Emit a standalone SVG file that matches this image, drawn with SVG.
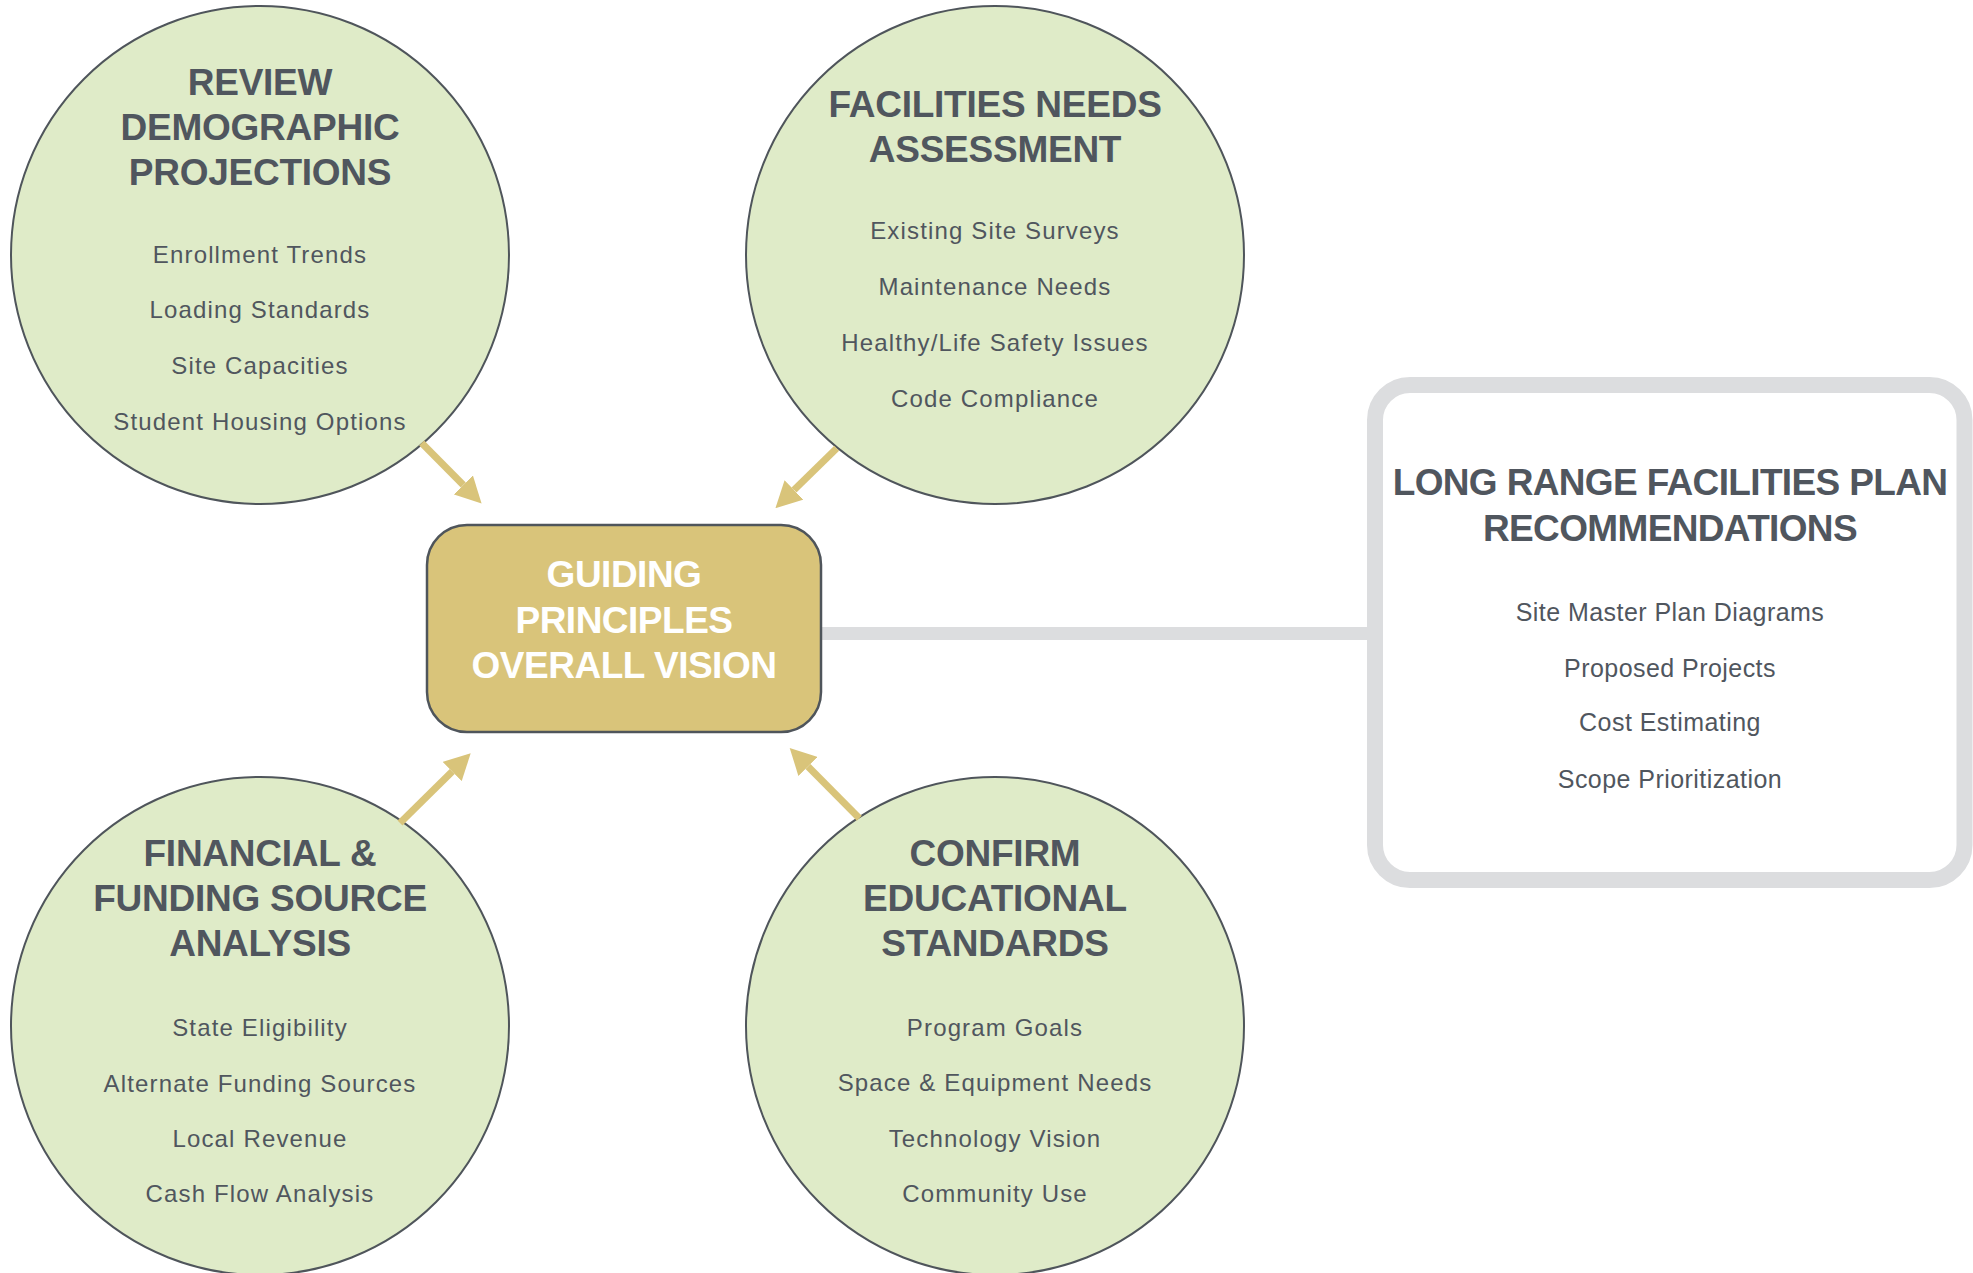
<svg xmlns="http://www.w3.org/2000/svg" width="1973" height="1273" viewBox="0 0 1973 1273">
<style>
.circ{fill:#DFEBC8;stroke:#4F555B;stroke-width:2}
.ttl{font-family:"Liberation Sans",Arial,sans-serif;font-weight:bold;font-size:37px;fill:#50565E;text-anchor:middle;letter-spacing:-0.25px}
.itm{font-family:"Liberation Sans",Arial,sans-serif;font-size:24px;fill:#50565E;text-anchor:middle;letter-spacing:1.15px}
.ctr{font-family:"Liberation Sans",Arial,sans-serif;font-weight:bold;font-size:37px;fill:#FFFFFF;text-anchor:middle;letter-spacing:-0.5px}
.rtl{font-family:"Liberation Sans",Arial,sans-serif;font-weight:bold;font-size:37px;fill:#50565E;text-anchor:middle;letter-spacing:-0.65px}
.rit{font-family:"Liberation Sans",Arial,sans-serif;font-size:25px;fill:#50565E;text-anchor:middle;letter-spacing:0.45px}
.arr{stroke:#D9C47A;stroke-width:7;fill:none;marker-end:url(#head)}
</style>
<defs>
<marker id="head" viewBox="0 0 26 27" markerWidth="26" markerHeight="27" markerUnits="userSpaceOnUse" refX="0" refY="13.5" orient="auto">
<path d="M0,0 L26,13.5 L0,27 z" fill="#D9C47A"/>
</marker>
</defs>
<rect width="1973" height="1273" fill="#FFFFFF"/>

<g id="connectors">
<line x1="821" y1="633.5" x2="1376" y2="633.5" stroke="#DCDDDF" stroke-width="13"/>
</g>

<g id="node-demographic">
<circle class="circ" cx="260" cy="255" r="249"/>
<text class="ttl" x="260" y="95">REVIEW</text>
<text class="ttl" x="260" y="140">DEMOGRAPHIC</text>
<text class="ttl" x="260" y="185">PROJECTIONS</text>
<text class="itm" x="260" y="263">Enrollment Trends</text>
<text class="itm" x="260" y="318">Loading Standards</text>
<text class="itm" x="260" y="374">Site Capacities</text>
<text class="itm" x="260" y="430">Student Housing Options</text>
</g>

<g id="node-facilities">
<circle class="circ" cx="995" cy="255" r="249"/>
<text class="ttl" x="995" y="117">FACILITIES NEEDS</text>
<text class="ttl" x="995" y="162">ASSESSMENT</text>
<text class="itm" x="995" y="239">Existing Site Surveys</text>
<text class="itm" x="995" y="295">Maintenance Needs</text>
<text class="itm" x="995" y="351">Healthy/Life Safety Issues</text>
<text class="itm" x="995" y="407">Code Compliance</text>
</g>

<g id="node-financial">
<circle class="circ" cx="260" cy="1026" r="249"/>
<text class="ttl" x="260" y="866">FINANCIAL &amp;</text>
<text class="ttl" x="260" y="911">FUNDING SOURCE</text>
<text class="ttl" x="260" y="956">ANALYSIS</text>
<text class="itm" x="260" y="1036">State Eligibility</text>
<text class="itm" x="260" y="1092">Alternate Funding Sources</text>
<text class="itm" x="260" y="1147">Local Revenue</text>
<text class="itm" x="260" y="1202">Cash Flow Analysis</text>
</g>

<g id="node-educational">
<circle class="circ" cx="995" cy="1026" r="249"/>
<text class="ttl" x="995" y="866">CONFIRM</text>
<text class="ttl" x="995" y="911">EDUCATIONAL</text>
<text class="ttl" x="995" y="956">STANDARDS</text>
<text class="itm" x="995" y="1036">Program Goals</text>
<text class="itm" x="995" y="1091">Space &amp; Equipment Needs</text>
<text class="itm" x="995" y="1147">Technology Vision</text>
<text class="itm" x="995" y="1202">Community Use</text>
</g>

<g id="node-guiding">
<rect x="427" y="525" width="394" height="207" rx="40" ry="40" fill="#D9C47A" stroke="#4F555B" stroke-width="2.5"/>
<text class="ctr" x="624" y="587">GUIDING</text>
<text class="ctr" x="624" y="633">PRINCIPLES</text>
<text class="ctr" x="624" y="678">OVERALL VISION</text>
</g>

<g id="node-recommendations">
<rect x="1375" y="385" width="589.5" height="495" rx="35" ry="35" fill="#FFFFFF" stroke="#DCDDDF" stroke-width="16"/>
<text class="rtl" x="1670" y="495">LONG RANGE FACILITIES PLAN</text>
<text class="rtl" x="1670" y="541">RECOMMENDATIONS</text>
<text class="rit" x="1670" y="621">Site Master Plan Diagrams</text>
<text class="rit" x="1670" y="677">Proposed Projects</text>
<text class="rit" x="1670" y="731">Cost Estimating</text>
<text class="rit" x="1670" y="788">Scope Prioritization</text>
</g>

<g id="arrows">
<line class="arr" x1="421.7" y1="443" x2="463.3" y2="485"/>
<line class="arr" x1="836.7" y1="448.3" x2="794" y2="490"/>
<line class="arr" x1="400" y1="823" x2="452.2" y2="771.5"/>
<line class="arr" x1="859.3" y1="818.3" x2="808" y2="766.5"/>
</g>
</svg>
